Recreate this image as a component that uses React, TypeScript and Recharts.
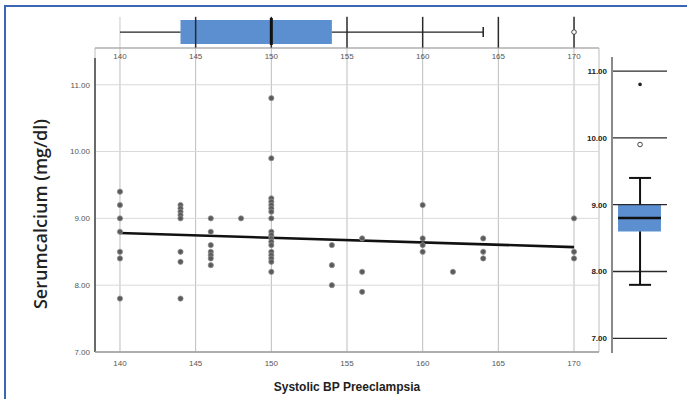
import React from "react";
import {
  ScatterChart,
  Scatter,
  XAxis,
  YAxis,
  CartesianGrid,
  ReferenceLine,
  ReferenceArea,
} from "recharts";

// tick values
const bpTicks = [140, 145, 150, 155, 160, 165, 170];
const calciumTicks = [7, 8, 9, 10, 11];

// systolic BP groups and the serum calcium values read at each one
const bpGroups = [140, 144, 146, 148, 150, 154, 156, 160, 162, 164, 170];
const calciumByBp = [
  [9.4, 9.2, 9.0, 8.8, 8.5, 8.4, 7.8],
  [9.2, 9.15, 9.1, 9.05, 9.0, 8.5, 8.35, 7.8],
  [9.0, 8.8, 8.6, 8.5, 8.45, 8.4, 8.3],
  [9.0],
  [10.8, 9.9, 9.3, 9.25, 9.2, 9.15, 9.1, 9.0, 8.8, 8.75, 8.7, 8.65, 8.6, 8.5, 8.45, 8.4, 8.35, 8.2],
  [8.6, 8.3, 8.0],
  [8.7, 8.2, 7.9],
  [9.2, 8.7, 8.6, 8.5],
  [8.2],
  [8.7, 8.5, 8.4],
  [9.0, 8.5, 8.4],
];

// linear fit line (endpoints)
const fitBp = [140, 170];
const fitCalcium = [8.78, 8.57];

// box plot stats: min, q1, median, q3, max
const bpBox = [140, 144, 150, 154, 164];
const bpOutliers = [170];
const calciumBox = [7.8, 8.6, 8.8, 9.0, 9.4];
const calciumOutliers = [9.9];
const calciumExtremes = [10.8];

const X_DOMAIN: [number, number] = [138.35, 171.65];
const Y_DOMAIN: [number, number] = [7, 11.55];
const Y_DOMAIN_SIDE: [number, number] = [6.78, 11.21];

const points = bpGroups.flatMap((x, i) => calciumByBp[i].map((y) => ({ x, y })));

const FONT = "'Liberation Sans', Arial, sans-serif";
const BOX_BLUE = "#5b8fd0";
const tickStyle = { fontSize: 8, fill: "#555", fontFamily: FONT };

const Dot = (p: any) => (
  <circle cx={p.cx} cy={p.cy} r={2.6} fill="#5a5a5a" stroke="#909090" strokeWidth={0.8} />
);
const OpenDot = (p: any) => (
  <circle cx={p.cx} cy={p.cy} r={2.3} fill="#fff" stroke="#444" strokeWidth={1} />
);
const StarDot = (p: any) => <circle cx={p.cx} cy={p.cy} r={1.8} fill="#222" />;

export default function App() {
  const [bMin, bQ1, bMed, bQ3, bMax] = bpBox;
  const [cMin, cQ1, cMed, cQ3, cMax] = calciumBox;

  return (
    <div
      style={{
        position: "absolute",
        left: 0,
        top: 0,
        width: 687,
        height: 399,
        background: "#fff",
        overflow: "hidden",
        fontFamily: FONT,
      }}
    >
      {/* frame */}
      <div
        style={{
          position: "absolute",
          left: 4,
          top: 5,
          width: 690,
          height: 400,
          borderLeft: "2px solid #3e64b4",
          borderTop: "2px solid #3e64b4",
        }}
      />

      {/* main scatter */}
      <div style={{ position: "absolute", left: 0, top: 0 }}>
        <ScatterChart width={687} height={399} margin={{ top: 48, right: 88, bottom: 27, left: 55 }}>
          <CartesianGrid horizontal={false} stroke="#bdbdbd" />
          <CartesianGrid vertical={false} stroke="#d9d9d9" />
          <XAxis
            type="number"
            dataKey="x"
            domain={X_DOMAIN}
            ticks={bpTicks}
            interval={0}
            allowDataOverflow
            height={20}
            tickLine={false}
            axisLine={{ stroke: "#9a9a9a", strokeWidth: 1.5 }}
            tick={tickStyle}
          />
          <YAxis
            type="number"
            dataKey="y"
            domain={Y_DOMAIN}
            ticks={calciumTicks}
            interval={0}
            allowDataOverflow
            width={40}
            axisLine={false}
            tickLine={false}
            tickSize={3}
            tickMargin={2}
            tick={tickStyle}
            tickFormatter={(v: number) => v.toFixed(2)}
          />
          <ReferenceLine
            segment={[
              { x: X_DOMAIN[0], y: 7 },
              { x: X_DOMAIN[0], y: 11.4 },
            ]}
            stroke="#6a6a6a"
            strokeWidth={2}
            ifOverflow="visible"
          />
          <Scatter data={points} shape={Dot} isAnimationActive={false} />
          <ReferenceLine
            segment={[
              { x: fitBp[0], y: fitCalcium[0] },
              { x: fitBp[1], y: fitCalcium[1] },
            ]}
            stroke="#111"
            strokeWidth={2.6}
          />
        </ScatterChart>
      </div>

      {/* top box plot of systolic BP */}
      <div style={{ position: "absolute", left: 0, top: 0 }}>
        <ScatterChart width={687} height={70} margin={{ top: 10, right: 88, bottom: 0, left: 95 }}>
          <XAxis
            type="number"
            dataKey="x"
            domain={X_DOMAIN}
            ticks={bpTicks}
            interval={0}
            allowDataOverflow
            height={22}
            tickLine={false}
            tickSize={3}
            tickMargin={2}
            axisLine={{ stroke: "#9a9a9a", strokeWidth: 1.2 }}
            tick={tickStyle}
          />
          <YAxis type="number" dataKey="y" domain={[0, 1]} hide />
          {bpTicks.map((t) => (
            <ReferenceLine
              key={t}
              segment={[
                { x: t, y: 0 },
                { x: t, y: 0.82 },
              ]}
              stroke={t === bpTicks[0] ? "#c8c8c8" : "#2a2a2a"}
              strokeWidth={t === bpTicks[0] ? 1 : 1.5}
            />
          ))}
          <ReferenceLine segment={[{ x: bMin, y: 0.42 }, { x: bQ1, y: 0.42 }]} stroke="#222" strokeWidth={1.2} />
          <ReferenceLine segment={[{ x: bQ3, y: 0.42 }, { x: bMax, y: 0.42 }]} stroke="#222" strokeWidth={1.2} />
          <ReferenceLine segment={[{ x: bMax, y: 0.29 }, { x: bMax, y: 0.55 }]} stroke="#222" strokeWidth={1.5} />
          <ReferenceArea x1={bQ1} x2={bQ3} y1={0.105} y2={0.737} fill={BOX_BLUE} fillOpacity={1} stroke="none" />
          <ReferenceLine segment={[{ x: bMed, y: 0.08 }, { x: bMed, y: 0.79 }]} stroke="#111" strokeWidth={3} />
          <Scatter
            data={bpOutliers.map((x) => ({ x, y: 0.42 }))}
            shape={OpenDot}
            isAnimationActive={false}
          />
        </ScatterChart>
      </div>

      {/* right box plot of serum calcium */}
      <div style={{ position: "absolute", left: 0, top: 0 }}>
        <ScatterChart width={687} height={399} margin={{ top: 57, right: 20, bottom: 46, left: 582 }}>
          <XAxis type="number" dataKey="x" domain={[0, 1]} hide />
          <YAxis
            type="number"
            dataKey="y"
            domain={Y_DOMAIN_SIDE}
            ticks={calciumTicks}
            interval={0}
            allowDataOverflow
            width={30}
            tickLine={false}
            tickSize={3}
            tickMargin={2}
            axisLine={{ stroke: "#8a8a8a", strokeWidth: 2 }}
            tick={{ ...tickStyle, fill: "#222", fontWeight: "bold" }}
            tickFormatter={(v: number) => v.toFixed(2)}
          />
          {calciumTicks.map((t) => (
            <ReferenceLine key={t} y={t} stroke="#2a2a2a" strokeWidth={1.3} />
          ))}
          <ReferenceLine segment={[{ x: 0.51, y: cQ3 }, { x: 0.51, y: cMax }]} stroke="#111" strokeWidth={2} />
          <ReferenceLine segment={[{ x: 0.51, y: cMin }, { x: 0.51, y: cQ1 }]} stroke="#111" strokeWidth={2} />
          <ReferenceLine segment={[{ x: 0.31, y: cMax }, { x: 0.71, y: cMax }]} stroke="#111" strokeWidth={2} />
          <ReferenceLine segment={[{ x: 0.31, y: cMin }, { x: 0.71, y: cMin }]} stroke="#111" strokeWidth={2} />
          <ReferenceArea x1={0.11} x2={0.89} y1={cQ1} y2={cQ3} fill={BOX_BLUE} fillOpacity={1} stroke="none" />
          <ReferenceLine segment={[{ x: 0.11, y: cMed }, { x: 0.89, y: cMed }]} stroke="#111" strokeWidth={2.5} />
          <Scatter
            data={calciumOutliers.map((y) => ({ x: 0.51, y }))}
            shape={OpenDot}
            isAnimationActive={false}
          />
          <Scatter
            data={calciumExtremes.map((y) => ({ x: 0.51, y }))}
            shape={StarDot}
            isAnimationActive={false}
          />
        </ScatterChart>
      </div>

      {/* axis titles */}
      <div
        style={{
          position: "absolute",
          left: 40,
          top: 214,
          transform: "translate(-50%, -50%) rotate(-90deg)",
          whiteSpace: "nowrap",
          fontFamily: "'Open Sans', sans-serif",
          fontWeight: 600,
          fontSize: 18,
          color: "#222",
        }}
      >
        Serumcalcium (mg/dl)
      </div>
      <div
        style={{
          position: "absolute",
          left: 347,
          top: 387,
          transform: "translate(-50%, -50%)",
          whiteSpace: "nowrap",
          fontFamily: FONT,
          fontWeight: "bold",
          fontSize: 12,
          color: "#222",
        }}
      >
        Systolic BP Preeclampsia
      </div>
    </div>
  );
}
